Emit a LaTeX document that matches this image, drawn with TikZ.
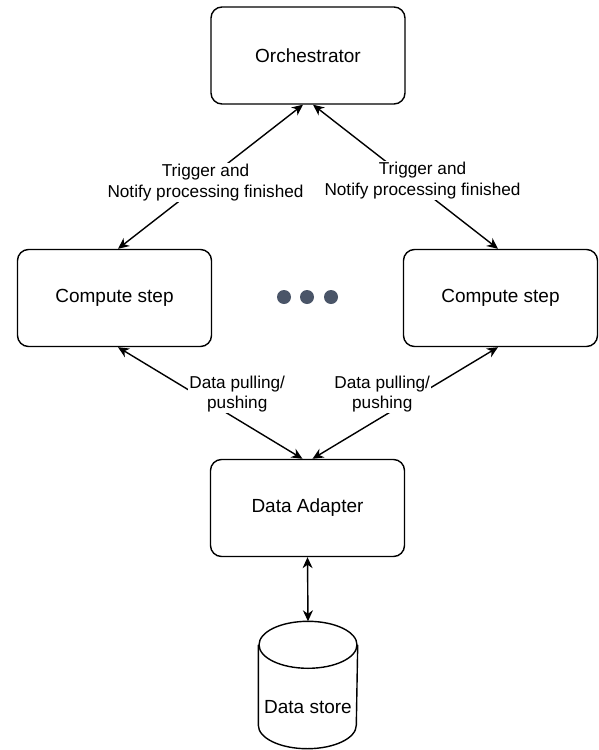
\documentclass[tikz,border=0pt]{standalone}
\usepackage{fontspec}
\setmainfont{Liberation Sans}
\usetikzlibrary{arrows.meta,positioning}

\definecolor{dotgray}{RGB}{74,85,104}

\begin{document}
\begin{tikzpicture}[>={Stealth[length=11pt,width=10pt,inset=3.5pt]},line width=1.4pt,
  box/.style={draw,rounded corners=11pt,minimum width=194pt,minimum height=97pt,
    inner sep=0pt,font=\fontsize{19}{22}\selectfont},
  lbl/.style={fill=white,inner sep=1pt,align=center,font=\fontsize{17.2}{20.5}\selectfont}]
  \useasboundingbox (0,0) rectangle (598pt,-750pt);

  \node[box] (orch)    at (308pt,-55.5pt)  {Orchestrator};
  \node[box] (compA)   at (114.5pt,-298pt) {Compute step};
  \node[box] (compB)   at (500.5pt,-298pt) {Compute step};
  \node[box] (adapter) at (307.5pt,-508pt) {Data Adapter};
  \node[minimum width=98pt,minimum height=126pt,inner sep=0pt] (store) at (308pt,-685pt) {};
  \node[font=\fontsize{19}{22}\selectfont] (storelbl) at ([yshift=-22pt]store.center) {Data store};

  % the dots between the compute steps
  \foreach \i/\x in {1/284,2/307,3/331}
    \node[circle,fill=dotgray,inner sep=0pt,minimum size=14pt] (dot\i) at (\x pt,-297pt) {};

  % data store cylinder
  \draw ([yshift=-23.5pt]store.north) ellipse [x radius=49pt,y radius=23.5pt];
  \draw ([yshift=-23.5pt]store.north west) -- ([yshift=23.5pt]store.south west)
    arc [start angle=180,end angle=360,x radius=49pt,y radius=23.5pt]
    -- ([yshift=-23.5pt]store.north east);

  \draw[<->] ([xshift=3.5pt]compA.north) -- node[lbl,xshift=-5pt,yshift=-6pt] {Trigger and\\Notify processing finished} ([xshift=-5pt]orch.south);
  \draw[<->] ([xshift=-2.5pt]compB.north) -- node[lbl,xshift=17pt,yshift=-4pt] {Trigger and\\Notify processing finished} ([xshift=5pt]orch.south);
  \draw[<->] ([xshift=3.5pt]compA.south) -- node[lbl,xshift=27pt,yshift=9pt] {Data pulling/\\pushing} ([xshift=-5pt]adapter.north);
  \draw[<->] ([xshift=-2.5pt]compB.south) -- node[lbl,xshift=-23pt,yshift=9pt] {Data pulling/\\pushing} ([xshift=5pt]adapter.north);
  \draw[<->] (adapter.south) -- (store.north);
\end{tikzpicture}
\end{document}
